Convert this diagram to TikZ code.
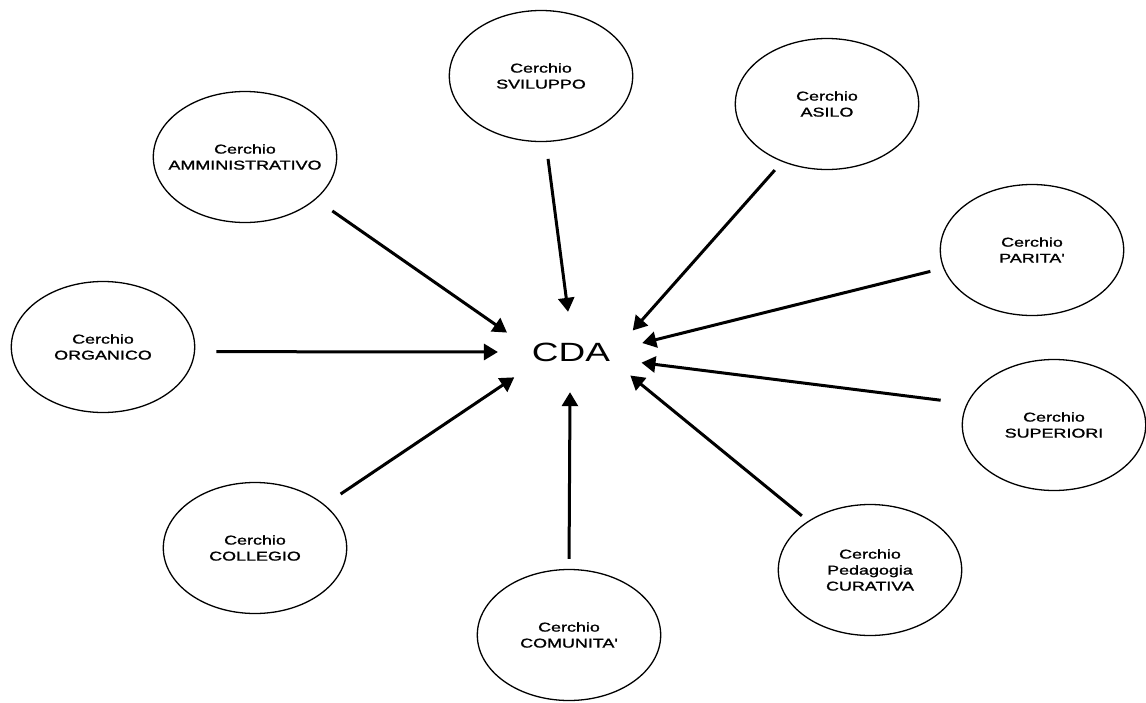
\documentclass[tikz,border=0pt]{standalone}
\usepackage{fontspec}
\setmainfont{Liberation Sans}
\newfontfamily\labelfont[FakeBold=1.2]{Liberation Sans}
\usetikzlibrary{shapes.geometric,arrows.meta}

\begin{document}
\begin{tikzpicture}[x=1pt,y=-1pt]
        \useasboundingbox (0,0) rectangle (1146,702);

        \begin{scope}[every node/.style={circle,draw,line width=1.3pt,minimum size=131pt,inner sep=1pt,xscale=1.4,align=center,font=\labelfont\fontsize{12.8}{16}\selectfont}]
          \node (ammin)     at (245,157)  {Cerchio\\AMMINISTRATIVO};
          \node (sviluppo)  at (541,76)   {Cerchio\\SVILUPPO};
          \node (asilo)     at (827,104)  {Cerchio\\ASILO};
          \node (parita)    at (1032,250) {Cerchio\\PARITA'};
          \node (organico)  at (103,347)  {Cerchio\\ORGANICO};
          \node (superiori) at (1054,425) {Cerchio\\SUPERIORI};
          \node (collegio)  at (255,548)  {Cerchio\\COLLEGIO};
          \node (curativa)  at (870,570)  {Cerchio\\Pedagogia\\CURATIVA};
          \node (comunita)  at (569,635)  {Cerchio\\COMUNITA'};
        \end{scope}

        \node[ellipse,minimum width=104pt,minimum height=80pt,inner sep=0pt,xscale=1.4,font=\fontsize{26.4}{30}\selectfont] (cda) at (571,352) {CDA};

        \begin{scope}[every edge/.style={draw,line width=3pt,-{Triangle[length=14pt,width=16pt]}}]
          \path (ammin.-40)     edge[shorten <=20pt] (cda.157);
          \path (sviluppo.-87)  edge[shorten <=17pt] (cda.93);
          \path (asilo.-119)    edge[shorten <=11pt] (cda.26);
          \path (parita.196)    edge[shorten <=13pt] (cda.10);
          \path (organico.-4)   edge[shorten <=21pt] (cda.180);
          \path (superiori.161) edge[shorten <=26pt] (cda.-12);
          \path (collegio.41)   edge[shorten <=19pt] (cda.212);
          \path (comunita.90)   edge[shorten <=10pt] (cda.-91);
          \path (curativa.132)  edge[shorten <=8pt]  (cda.-29);
        \end{scope}

\end{tikzpicture}
\end{document}
